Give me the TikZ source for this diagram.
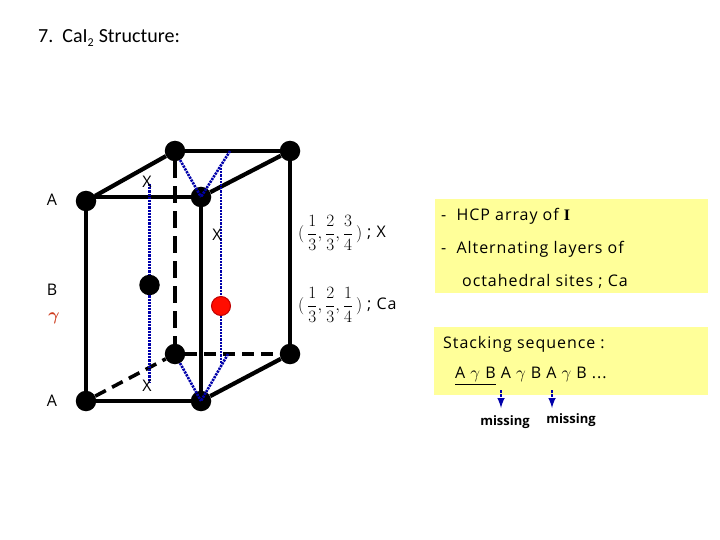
\documentclass[tikz,border=0pt]{standalone}
\usepackage{amsmath, amssymb}
\usepackage{fontspec}
\setmainfont[LetterSpace=6]{Open Sans}
\newfontfamily\missfont{Open Sans}
\newfontfamily\titlefont{Carlito}
\newfontfamily\seriffont{Liberation Serif}
\usetikzlibrary{arrows.meta}
\definecolor{sitefill}{RGB}{255,255,153}
\definecolor{dotblue}{RGB}{0,0,170}
\definecolor{gammared}{RGB}{205,60,30}
\tikzset{>=latex}
\tikzset{
  atom/.style={circle, fill=black, inner sep=0pt, minimum size=20.5pt},
  caatom/.style={circle, fill=red!90!orange, draw=red!75!black, line width=1pt, inner sep=0pt, minimum size=19pt},
  bond/.style={black, line width=3.2pt},
  sidebond/.style={black, line width=4.2pt},
  hiddenbond/.style={black, line width=3.6pt, dash pattern=on 17pt off 8pt},
  frontdash/.style={black, line width=3.6pt, dash pattern=on 12pt off 7pt},
  siteline/.style={dotblue, line width=2.6pt, dash pattern=on 2.2pt off 1pt},
  missarrow/.style={->, dotblue, line width=2.4pt, dash pattern=on 2.5pt off 1.5pt},
  lbl/.style={inner sep=0pt, font=\fontsize{16}{18}\selectfont},
  fraclbl/.style={inner sep=0pt, anchor=west, font=\fontsize{16}{18}\selectfont},
  misslbl/.style={inner sep=0pt, font=\missfont\bfseries\fontsize{13}{15}\selectfont},
  sitebox/.style={fill=sitefill, inner sep=0pt, anchor=north west},
}
\begin{document}
\begin{tikzpicture}[x=1pt,y=-1pt]
  \useasboundingbox (0,0) rectangle (720,540);
  % yellow boxes
  \node[sitebox, minimum width=273pt, minimum height=94pt] (hcpbox) at (435,199) {};
  \node[sitebox, minimum width=274pt, minimum height=68pt] (seqbox) at (434,327) {};
  % cell corners
  \node[atom] (atl) at (86,201) {};
  \node[atom] (abl) at (86,401) {};
  \node[atom] (ftop) at (201,197) {};
  \node[atom] (fbot) at (201,401) {};
  \node[atom] (btl) at (175,151) {};
  \node[atom] (btr) at (290,151) {};
  \node[atom] (bbl) at (175,354) {};
  \node[atom] (bbr) at (290,354) {};
  \node[atom] (imid) at (149.5,285) {};
  \node[caatom] (camid) at (221,306) {};
  % cell edges
  \draw[sidebond] (atl) -- (btl);
  \draw[bond] (btl) -- (btr);
  \draw[sidebond] (ftop) -- (btr);
  \draw[bond] (atl |- ftop) -- (ftop);
  \draw[sidebond] (atl) -- (abl);
  \draw[sidebond] (ftop) -- (fbot);
  \draw[sidebond] (btr) -- (bbr);
  \draw[bond] (abl) -- (fbot);
  \draw[sidebond] (fbot) -- (bbr);
  \draw[hiddenbond] (btl) -- (bbl);
  \draw[frontdash] (bbl) -- (bbr);
  \draw[frontdash] (abl) -- (bbl);
  % sites
  \coordinate (ttri) at (230,151);
  \coordinate (btri) at (228,354);
  \coordinate (itop) at (149.5,184);
  \coordinate (ibot) at (149.5,382);
  \coordinate (ctop) at (221,168);
  \coordinate (cbot) at (221,364);
  \draw[siteline] (btl) -- (ftop.center);
  \draw[siteline] (ttri) -- (ftop.center);
  \draw[siteline] (bbl) -- (fbot.center);
  \draw[siteline] (btri) -- (fbot.center);
  \draw[siteline] (itop) -- (imid);
  \draw[siteline] (imid) -- (ibot);
  \draw[siteline] (ctop) -- (camid);
  \draw[siteline] (camid) -- (cbot);
  \node[lbl] (xone) at (147,182) {X};
  \node[lbl] (xtwo) at (217,235) {X};
  \node[lbl] (xthree) at (147,386) {X};
  % labels
  \node[inner sep=0pt, anchor=west, font=\titlefont\fontsize{20}{22}\selectfont] (title) at (38,38) {7.\ \ CaI$_{\text{\fontsize{12}{12}\selectfont 2}}$ Structure:};
  \node[lbl] (la) at (52,200) {A};
  \node[lbl] (lb) at (52,290) {B};
  \node[lbl, text=gammared] (lg) at (54,318) {$\boldsymbol{\gamma}$};
  \node[lbl] (lc) at (52,401) {A};
  \node[fraclbl] (fracx) at (298,233) {$(\,\dfrac{1}{3},\dfrac{2}{3},\dfrac{3}{4}\,)$};
  \node[lbl, anchor=west] (semix) at (367,233) {; X};
  \node[fraclbl] (fracca) at (298,305) {$(\,\dfrac{1}{3},\dfrac{2}{3},\dfrac{1}{4}\,)$};
  \node[lbl, anchor=west] (semica) at (367,305) {; Ca};
  \node[lbl, anchor=west] (hcpa) at (441,216) {-\ \ HCP array of {\seriffont\bfseries I}};
  \node[lbl, anchor=west] (hcpb) at (441,249) {-\ \ Alternating layers of};
  \node[lbl, anchor=west] (hcpc) at (462,281) {octahedral sites ; Ca};
  \node[lbl, anchor=west] (seqa) at (443,344) {Stacking sequence :};
  \node[lbl, anchor=west] (seqb) at (455,376) {\underline{A $\gamma$ B} A $\gamma$ B A $\gamma$ B ...};
  \coordinate (ma) at (501,390);
  \coordinate (mb) at (552,390);
  \node[misslbl] (missa) at (505,422) {missing};
  \node[misslbl] (missb) at (571,420) {missing};
  \draw[missarrow] (ma) -- ++(0,18);
  \draw[missarrow] (mb) -- ++(0,18);
\end{tikzpicture}
\end{document}
